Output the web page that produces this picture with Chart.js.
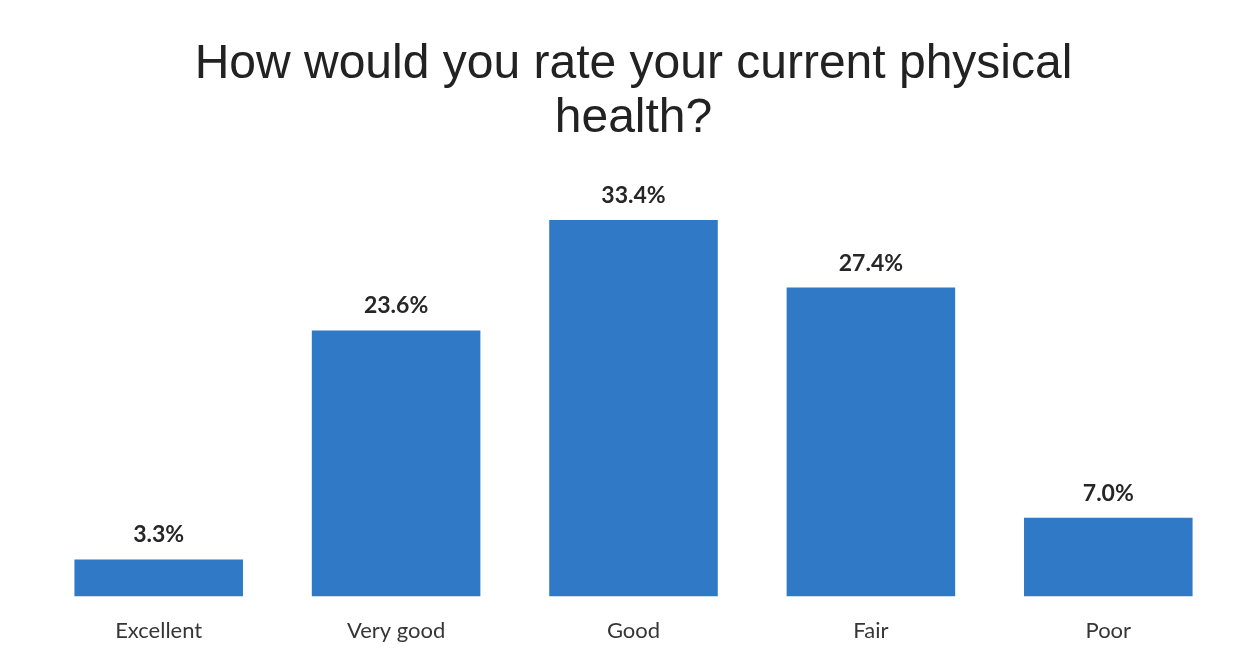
<!DOCTYPE html>
<html>
<head>
<meta charset="utf-8">
<script src="https://cdn.jsdelivr.net/npm/chart.js@4"></script>
<style>
html,body{margin:0;padding:0;background:#fff;}
#wrap{width:1246px;height:656px;position:relative;}
</style>
</head>
<body>
<div id="wrap"><canvas id="c" width="1246" height="656"></canvas></div>
<script>
const categories = ["Excellent", "Very good", "Good", "Fair", "Poor"];
const percentages = [3.3, 23.6, 33.4, 27.4, 7.0];
const titleLines = ["How would you rate your current physical", "health?"];

const valueLabels = {
  id: 'valueLabels',
  afterDatasetsDraw(chart) {
    const ctx = chart.ctx;
    const meta = chart.getDatasetMeta(0);
    ctx.save();
    ctx.font = "bold 23px Lato, 'Open Sans', sans-serif";
    ctx.fillStyle = "#262626";
    ctx.textAlign = "center";
    ctx.textBaseline = "alphabetic";
    meta.data.forEach((bar, i) => {
      ctx.fillText(percentages[i].toFixed(1) + "%", bar.x, bar.y - 17);
    });
    ctx.restore();
  }
};

new Chart(document.getElementById('c'), {
  type: 'bar',
  data: {
    labels: categories,
    datasets: [{
      data: percentages,
      backgroundColor: '#2f79c6',
      borderWidth: 0,
      barPercentage: 0.71,
      categoryPercentage: 1.0
    }]
  },
  options: {
    responsive: false,
    animation: false,
    devicePixelRatio: 1,
    layout: { padding: { left: 40, right: 19, top: 0, bottom: -1 } },
    plugins: {
      legend: { display: false },
      tooltip: { enabled: false },
      title: {
        display: true,
        text: titleLines,
        color: '#222222',
        font: { family: "'Liberation Sans', Arial, sans-serif", size: 48, weight: 'normal', lineHeight: 1.12 },
        padding: { top: 38, bottom: 18 }
      }
    },
    scales: {
      x: {
        grid: { display: false },
        border: { display: false },
        ticks: {
          color: '#363636',
          font: { family: "Lato, 'Open Sans', sans-serif", size: 22 },
          padding: 13
        }
      },
      y: {
        display: false,
        min: 0,
        max: 38.4
      }
    }
  },
  plugins: [valueLabels]
});
</script>
</body>
</html>
